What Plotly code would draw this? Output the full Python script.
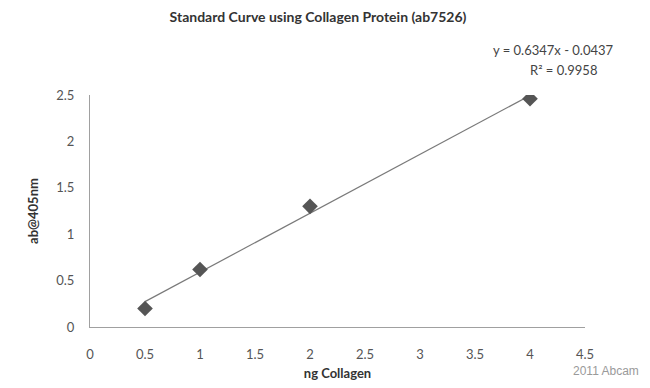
import plotly.graph_objects as go

ng_collagen = [0.5, 1, 2, 4]
absorbance = [0.2, 0.62, 1.3, 2.46]
slope = 0.6347
intercept = -0.0437
x_ticks = [0, 0.5, 1, 1.5, 2, 2.5, 3, 3.5, 4, 4.5]
y_ticks = [0, 0.5, 1, 1.5, 2, 2.5]

trend_x = [min(ng_collagen), max(ng_collagen)]
trend_y = [slope * v + intercept for v in trend_x]

font = "Lato, Open Sans, sans-serif"

fig = go.Figure()
fig.add_trace(go.Scatter(x=trend_x, y=trend_y, mode="lines",
                         line=dict(color="#7a7a7a", width=1.2), hoverinfo="skip"))
fig.add_trace(go.Scatter(x=ng_collagen, y=absorbance, mode="markers",
                         marker=dict(symbol="diamond", size=12, color="#555555")))

fig.update_layout(
    width=650, height=388,
    margin=dict(l=90, r=65, t=95, b=61, autoexpand=False),
    paper_bgcolor="white", plot_bgcolor="white",
    showlegend=False,
    font=dict(family=font, color="#444444", size=13),
    title=dict(text="<b>Standard Curve using Collagen Protein (ab7526)</b>",
               x=318/650, xanchor="center", y=1-17/388, yanchor="middle",
               font=dict(size=14, color="#333333")),
    xaxis=dict(range=[0, 4.5], tickvals=x_ticks, ticktext=[f"{v:g}" for v in x_ticks],
               showgrid=False, zeroline=False, showline=True, linecolor="#a0a0a0",
               linewidth=1, ticks="", ticklen=0, automargin=False,
               tickfont=dict(size=13, color="#555555"),
               title=dict(text="<b>ng Collagen</b>", font=dict(size=13, color="#333333"), standoff=8)),
    yaxis=dict(range=[0, 2.5], tickvals=y_ticks, ticktext=[f"{v:g}" for v in y_ticks],
               showgrid=False, zeroline=False, showline=True, linecolor="#a0a0a0",
               linewidth=1, ticks="", ticklen=0, automargin=False,
               tickfont=dict(size=13, color="#555555"),
               title=dict(text="<b>ab@405nm</b>", font=dict(size=13, color="#333333"), standoff=14)),
    annotations=[
        dict(text=f"y = {slope}x - {abs(intercept)}", xref="paper", yref="paper",
             x=(553-90)/495, y=(327-50)/232, showarrow=False, xanchor="center", yanchor="middle",
             font=dict(size=13, color="#444444")),
        dict(text="R² = 0.9958", xref="paper", yref="paper",
             x=(563-90)/495, y=(327-70)/232, showarrow=False, xanchor="center", yanchor="middle",
             font=dict(size=13, color="#444444")),
        dict(text="2011 Abcam", xref="paper", yref="paper",
             x=(606-90)/495, y=(327-371)/232, showarrow=False, xanchor="center", yanchor="middle",
             font=dict(size=12, color="#9a9a9a", family="Liberation Sans, Arial, sans-serif")),
    ],
)
fig.update_xaxes(ticklabelstandoff=15)
fig.update_yaxes(ticklabelstandoff=12)

fig.write_html("out.html", config={"displayModeBar": False},
               post_script="document.body.style.margin='0';")
